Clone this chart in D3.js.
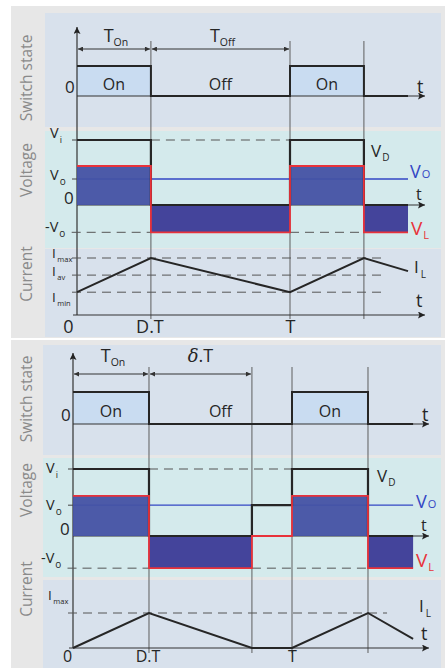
<!DOCTYPE html>
<html><head><meta charset="utf-8">
<script src="https://cdn.jsdelivr.net/npm/d3@7"></script>
<style>body{margin:0;background:#fff}svg{display:block}text{font-family:"Open Sans",sans-serif}</style>
</head><body><svg id="c" width="445" height="668"></svg>
<script>
// ---------------- data (time in units of T, voltage in units of Vi, current in units of Imax) ----------------
const tickTimes = [0, 0.347, 1];
const tickLabels = ["0", "D.T", "T"];

// continuous conduction (top figure)
const ccmTimes = [0, 0.347, 1, 1.347, 1.554];
const ccmSwitch = [1, 0, 1, 0];
const ccmSwitchSpans = [[0, 0.347], [0.347, 1], [1, 1.347]];
const ccmSwitchLabels = ["On", "Off", "On"];
const ccmDimSpans = [[0, 0.347], [0.347, 1]];
const ccmDimLabels = [["T", "On"], ["T", "Off"]];
const ccmVD = [1, 0, 1, 0];
const ccmVL = [0.6, -0.42, 0.6, -0.42];
const ccmVo = 0.4;
const ccmViDash = [[0.347, 1]];
const ccmNegDash = [[-0.025, 0.347], [1, 1.347]];
const ccmIL = [0.4, 1, 0.4, 1, 0.77];
const ccmILevels = [1, 0.7, 0.4];
const ccmILevelNames = ["max", "av", "min"];
const ccmIDashEnd = 1.43;

// discontinuous conduction (bottom figure)
const dcmTimes = [0, 0.347, 0.817, 1, 1.347, 1.553];
const dcmSwitch = [1, 0, 0, 1, 0];
const dcmSwitchSpans = [[0, 0.347], [0.347, 1], [1, 1.347]];
const dcmSwitchLabels = ["On", "Off", "On"];
const dcmDimSpans = [[0, 0.347], [0.347, 0.817]];
const dcmDimLabels = [["T", "On"], ["δ.T", ""]];
const dcmVD = [1, 0, 0.46, 1, 0];
const dcmVL = [0.6, -0.48, 0, 0.6, -0.48];
const dcmVo = 0.46;
const dcmViDash = [[0.347, 1]];
const dcmNegDash = [[-0.025, 0.347], [0.817, 1.347]];
const dcmIL = [0, 1, 0, 0, 1, 0.26];
const dcmILevels = [1];
const dcmILevelNames = ["max"];
const dcmIDashEnd = 1.434;

// ---------------- styles ----------------
const C = {bg:"#e7e7e7", sw:"#d8e1ec", v:"#d4eaec", on:"#c9dcf1", pos:"#4452a4", neg:"#3c3b97",
           red:"#e8323a", blue:"#3346c4", ink:"#262626", grid:"#5e5e5e", title:"#8a8a8a"};

const svg = d3.select("#c");
const defs = svg.append("defs");
defs.append("marker").attr("id","ax").attr("viewBox","0 0 10 10").attr("refX",10).attr("refY",5)
  .attr("markerWidth",11).attr("markerHeight",7).attr("markerUnits","userSpaceOnUse").attr("orient","auto")
  .append("path").attr("d","M0,0L10,5L0,10L2,5z").attr("fill","#222");
defs.append("marker").attr("id","dm").attr("viewBox","0 0 10 10").attr("refX",10).attr("refY",5)
  .attr("markerWidth",7).attr("markerHeight",5).attr("markerUnits","userSpaceOnUse").attr("orient","auto-start-reverse")
  .append("path").attr("d","M0,0L10,5L0,10z").attr("fill","#333");

function subText(g, x, y, main, sub, o) {
  const t = g.append("text").attr("x", x).attr("y", y).attr("fill", o.fill || C.ink)
    .attr("font-size", o.size).attr("text-anchor", o.anchor || "start");
  if (main === "δ.T") {
    t.append("tspan").attr("font-style","italic").attr("font-family","DejaVu Serif").text("δ");
    t.append("tspan").text(".T");
  } else t.append("tspan").text(main);
  if (sub) t.append("tspan").attr("dy", o.dy).attr("dx", o.sdx || 0).attr("font-size", o.sub).text(sub);
  return t;
}

function drawFigure(c) {
  const x = d3.scaleLinear().domain([0, 1]).range([c.x0, c.xT]);
  const ys = d3.scaleLinear().domain([0, 1]).range(c.sY);
  const yv = d3.scaleLinear().domain([0, 1]).range(c.vY);
  const yi = d3.scaleLinear().domain([0, 1]).range(c.iY);
  const tEnd = c.times[c.times.length - 1];
  const iv = c.times.slice(0, -1).map((t, i) => ({t0: t, t1: c.times[i + 1], i}));
  const g = svg.append("g");

  // backgrounds
  g.append("rect").attr("x", 11).attr("y", c.bg[0]).attr("width", 434).attr("height", c.bg[1]).attr("fill", C.bg);
  c.panels.forEach(p => g.append("rect").attr("x", c.px).attr("y", p[0]).attr("width", 441 - c.px)
    .attr("height", p[1]).attr("fill", p[2]));
  c.titles.forEach(t => g.append("text").attr("transform", `translate(32,${t[1]}) rotate(-90)`)
    .attr("text-anchor", "middle").attr("font-size", 15.5).attr("fill", C.title).text(t[0]));

  // switch "on" fills
  g.selectAll(null).data(iv.filter(d => c.sw[d.i] === 1)).join("rect")
    .attr("x", d => x(d.t0)).attr("y", ys(1)).attr("width", d => x(d.t1) - x(d.t0))
    .attr("height", ys(0) - ys(1)).attr("fill", C.on);

  // grid lines
  g.selectAll(null).data(c.times.slice(1, -1)).join("line")
    .attr("x1", d => x(d)).attr("x2", d => x(d)).attr("y1", c.gridTop).attr("y2", c.gridBot)
    .attr("stroke", C.grid).attr("stroke-width", 1);

  // y axis
  g.append("line").attr("x1", c.x0).attr("x2", c.x0).attr("y1", c.iY[0]).attr("y2", c.axisTop)
    .attr("stroke", "#333").attr("stroke-width", 1.2).attr("marker-end", "url(#ax)");
  // horizontal axes
  [ys(0), yv(0), yi(0)].forEach(yy => g.append("line").attr("x1", c.x0 - (yy === yi(0) ? 4 : 0)).attr("x2", c.arrowX)
    .attr("y1", yy).attr("y2", yy).attr("stroke", "#333").attr("stroke-width", 1.2).attr("marker-end", "url(#ax)"));

  // dimension arrows
  c.dimSpans.forEach((s, k) => {
    g.append("line").attr("x1", x(s[0]) + 1).attr("x2", x(s[1]) - 1).attr("y1", c.dimY).attr("y2", c.dimY)
      .attr("stroke", "#333").attr("stroke-width", 1).attr("marker-start", "url(#dm)").attr("marker-end", "url(#dm)");
    const lab = c.dimLabels[k];
    subText(g, (x(s[0]) + x(s[1])) / 2 + (lab[1] ? 2 : 0), c.dimLabelY, lab[0], lab[1],
      {size: 18, sub: 10.5, dy: 4, anchor: "middle"});
  });

  // switch signal
  const swPts = c.sw.map((v, i) => [c.times[i], v]).concat([[tEnd, c.sw[c.sw.length - 1]]]);
  const stepLine = (sy) => d3.line().x(d => x(d[0])).y(d => sy(d[1])).curve(d3.curveStepAfter);
  g.append("path").attr("d", stepLine(ys)(swPts)).attr("fill", "none").attr("stroke", C.ink).attr("stroke-width", 2);
  c.swSpans.forEach((s, k) => g.append("text").attr("x", (x(s[0]) + x(s[1])) / 2).attr("y", ys(0) - c.swLabOff)
    .attr("text-anchor", "middle").attr("font-size", 16).attr("fill", C.ink).text(c.swLabels[k]));
  g.append("text").attr("x", c.x0 - 12).attr("y", ys(0) - 3).attr("font-size", 17).attr("fill", C.ink).text("0");

  // voltage panel
  c.viDash.forEach(s => g.append("line").attr("x1", x(s[0])).attr("x2", x(s[1])).attr("y1", yv(1)).attr("y2", yv(1))
    .attr("stroke", "#555").attr("stroke-dasharray", "9,6"));
  const negLevel = d3.min(c.vl);
  c.negDash.forEach(s => g.append("line").attr("x1", x(s[0])).attr("x2", x(s[1])).attr("y1", yv(negLevel)).attr("y2", yv(negLevel))
    .attr("stroke", "#555").attr("stroke-dasharray", "9,6"));
  [1, c.vo].forEach(v => g.append("line").attr("x1", c.x0 - 5).attr("x2", c.x0).attr("y1", yv(v)).attr("y2", yv(v))
    .attr("stroke", "#444"));
  g.append("line").attr("x1", c.x0).attr("x2", x(tEnd)).attr("y1", yv(c.vo)).attr("y2", yv(c.vo))
    .attr("stroke", C.blue).attr("stroke-width", 1.3);
  g.selectAll(null).data(iv.filter(d => c.vl[d.i] !== 0)).join("rect")
    .attr("x", d => x(d.t0)).attr("width", d => x(d.t1) - x(d.t0))
    .attr("y", d => Math.min(yv(c.vl[d.i]), yv(0))).attr("height", d => Math.abs(yv(c.vl[d.i]) - yv(0)))
    .attr("fill", d => c.vl[d.i] > 0 ? C.pos : C.neg).attr("fill-opacity", 0.95);
  const vdPts = c.vd.map((v, i) => [c.times[i], v]).concat([[tEnd, c.vd[c.vd.length - 1]]]);
  g.append("path").attr("d", stepLine(yv)(vdPts)).attr("fill", "none").attr("stroke", C.ink).attr("stroke-width", 2.2);
  const vlPts = c.vl.map((v, i) => [c.times[i], v]).concat([[tEnd, c.vl[c.vl.length - 1]]]);
  g.append("path").attr("d", stepLine(yv)(vlPts)).attr("fill", "none").attr("stroke", C.red).attr("stroke-width", 1.8);

  // voltage labels
  const L = c.lab;
  subText(g, c.x0 - 27, yv(1) + L.vi, "V", "i", {size: 14.5, sub: 9, dy: 5, sdx: 1});
  subText(g, c.x0 - 27, yv(c.vo) + L.vo, "V", "o", {size: 14.5, sub: 10, dy: 5, sdx: 1});
  g.append("text").attr("x", c.x0 - 13).attr("y", yv(0) - 1).attr("font-size", 17).attr("fill", C.ink).text("0");
  subText(g, c.x0 - 32, yv(negLevel) + L.nvo, "-V", "o", {size: 14.5, sub: 10, dy: 5, sdx: 1});
  subText(g, L.vdX, L.vdY, "V", "D", {size: 17, sub: 10, dy: 4, sdx: 1});
  subText(g, L.voX, L.voY, "V", "O", {size: 18, sub: 11, dy: 0, sdx: 1, fill: C.blue});
  subText(g, L.vlX, L.vlY, "V", "L", {size: 19, sub: 11, dy: 4, sdx: 1, fill: C.red});
  g.append("text").attr("x", L.tX).attr("y", ys(0) - 3).attr("font-size", 18).attr("fill", C.ink).text("t");
  g.append("text").attr("x", L.tX - 1).attr("y", yv(0) - 5).attr("font-size", 16).attr("fill", C.ink).text("t");
  g.append("text").attr("x", L.tX - 1).attr("y", yi(0) - 8).attr("font-size", 18).attr("fill", C.ink).text("t");

  // current panel
  c.levels.forEach((v, k) => {
    g.append("line").attr("x1", c.x0 - 5).attr("x2", x(c.iDashEnd)).attr("y1", yi(v)).attr("y2", yi(v))
      .attr("stroke", "#555").attr("stroke-dasharray", "9,6");
    subText(g, c.x0 - 25, yi(v) + L.iOff[k], "I", c.levelNames[k], {size: 13.5, sub: 7.5, dy: 4, sdx: 1.5});
  });
  const ilLine = d3.line().x((d, i) => x(c.times[i])).y(d => yi(d));
  g.append("path").attr("d", ilLine(c.il)).attr("fill", "none").attr("stroke", C.ink).attr("stroke-width", 2);
  subText(g, L.ilX, L.ilY, "I", "L", {size: 17, sub: 10, dy: 5, sdx: 2});

  // x axis labels
  const xa = d3.axisBottom(x).tickValues(tickTimes).tickFormat((d, i) => tickLabels[i]).tickSize(0).tickPadding(c.tickPad);
  const ag = g.append("g").attr("transform", `translate(0,${yi(0)})`).call(xa);
  ag.select(".domain").remove();
  ag.selectAll("text").attr("font-size", c.tickSize).attr("font-family", "Open Sans").attr("fill", C.ink)
    .attr("dx", (d, i) => i === 0 ? c.zeroDx : (i === 1 ? -1.5 : 0));
}

drawFigure({
  times: ccmTimes, sw: ccmSwitch, swSpans: ccmSwitchSpans, swLabels: ccmSwitchLabels,
  dimSpans: ccmDimSpans, dimLabels: ccmDimLabels, vd: ccmVD, vl: ccmVL, vo: ccmVo,
  viDash: ccmViDash, negDash: ccmNegDash, il: ccmIL, levels: ccmILevels, levelNames: ccmILevelNames,
  iDashEnd: ccmIDashEnd,
  x0: 77, xT: 290, sY: [96, 66], vY: [205, 140], iY: [315, 258],
  bg: [6, 332], px: 45, panels: [[13, 114, C.sw], [131, 117, C.v], [249, 88, C.sw]],
  titles: [["Switch state", 78], ["Voltage", 170], ["Current", 274]],
  axisTop: 27, gridTop: 41, gridBot: 319, arrowX: 425, dimY: 49, dimLabelY: 42, swLabOff: 6, zeroDx: -9,
  tickPad: 5, tickSize: 18,
  lab: {vi: -2, vo: 1, nvo: 0, vdX: 371, vdY: 157, voX: 410, voY: 178, vlX: 411, vlY: 235, tX: 417,
        iOff: [0, 1, 10], ilX: 414, ilY: 273}
});

drawFigure({
  times: dcmTimes, sw: dcmSwitch, swSpans: dcmSwitchSpans, swLabels: dcmSwitchLabels,
  dimSpans: dcmDimSpans, dimLabels: dcmDimLabels, vd: dcmVD, vl: dcmVL, vo: dcmVo,
  viDash: dcmViDash, negDash: dcmNegDash, il: dcmIL, levels: dcmILevels, levelNames: dcmILevelNames,
  iDashEnd: dcmIDashEnd,
  x0: 73, xT: 292, sY: [424, 392], vY: [536, 469], iY: [648, 613],
  bg: [340, 328], px: 43, panels: [[345, 110, C.sw], [458, 119, C.v], [580, 88, C.sw]],
  titles: [["Switch state", 399], ["Voltage", 490], ["Current", 589]],
  axisTop: 353, gridTop: 367, gridBot: 653, arrowX: 429, dimY: 374, dimLabelY: 362, swLabOff: 7, zeroDx: -6,
  tickPad: 3, tickSize: 16,
  lab: {vi: 4, vo: 5, nvo: -5, vdX: 377, vdY: 482, voX: 416, voY: 508, vlX: 416, vlY: 567, tX: 422,
        iOff: [-13], ilX: 419, ilY: 612}
});
</script></body></html>
